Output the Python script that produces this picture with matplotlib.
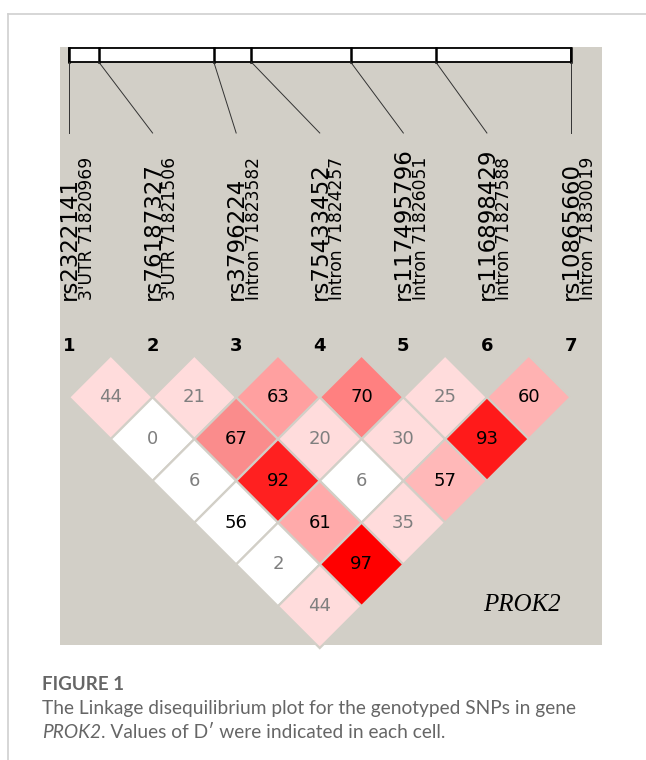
import matplotlib
matplotlib.use("Agg")
import matplotlib.pyplot as plt
from matplotlib.patches import Polygon, Rectangle

# SNP annotation
snp_ids = ["rs2322141", "rs76187327", "rs3796224", "rs75433452",
           "rs117495796", "rs116898429", "rs10865660"]
snp_regions = ["3'UTR", "3'UTR", "Intron", "Intron", "Intron", "Intron", "Intron"]
snp_positions = [71820969, 71821506, 71823582, 71824257, 71826051, 71827588, 71830019]
snp_numbers = [1, 2, 3, 4, 5, 6, 7]

# D' values, row d holds pairs (i, i+d)
dprime_rows = [
    [44, 21, 63, 70, 25, 60],
    [0, 67, 20, 30, 93],
    [6, 92, 6, 57],
    [56, 61, 35],
    [2, 97],
    [44],
]
# Haploview cell shading, same layout as dprime_rows
cell_colors = [
    ["#FFDCDC", "#FFDCDC", "#FFA0A0", "#FF8080", "#FFDCDC", "#FFB2B2"],
    ["#FFFFFF", "#FA8C8C", "#FFDCDC", "#FFDCDC", "#FF1A1A"],
    ["#FFFFFF", "#FF2020", "#FFFFFF", "#FFB8B8"],
    ["#FFFFFF", "#FFAAAA", "#FFDCDC"],
    ["#FFFFFF", "#FF0000"],
    ["#FFDCDC"],
]
gene_name = "PROK2"

BG = "#D2CFC7"

fig = plt.figure(figsize=(6.46, 7.60), dpi=100)
ax = fig.add_axes([0, 0, 1, 1])
ax.set_xlim(0, 646)
ax.set_ylim(760, 0)
ax.axis("off")

# page frame
ax.plot([8, 646], [14, 14], color="#D0D0D0", lw=1.2)
ax.plot([8, 8], [14, 760], color="#D0D0D0", lw=1.2)

# grey panel
ax.add_patch(Rectangle((60, 47), 542, 598, facecolor=BG, edgecolor="none"))

# physical map bar
x0, x1 = 69, 570.5
pmin, pmax = snp_positions[0], snp_positions[-1]
bar_x = [x0 + (p - pmin) / (pmax - pmin) * (x1 - x0) for p in snp_positions]
ax.add_patch(Rectangle((x0, 48), x1 - x0, 14, facecolor="white",
                       edgecolor="black", lw=1.3))
step = (x1 - x0) / (len(snp_ids) - 1)
lab_x = [x0 + k * step for k in range(len(snp_ids))]
for bx, lx in zip(bar_x, lab_x):
    ax.plot([bx, bx], [48, 62], color="black", lw=1.8)
    ax.plot([bx, lx], [62, 133], color="#333333", lw=0.7)

# rotated labels
for lx, sid, reg, pos in zip(lab_x, snp_ids, snp_regions, snp_positions):
    ax.text(lx + 7, 300, sid, rotation=90, rotation_mode="anchor", ha="left",
            va="baseline", fontsize=16.5, color="black", family="DejaVu Sans")
    ax.text(lx + 22.5, 300, f"{reg} {pos}", rotation=90, rotation_mode="anchor",
            ha="left", va="baseline", fontsize=12.3, color="black",
            family="DejaVu Sans")

# marker numbers
for lx, n in zip(lab_x, snp_numbers):
    ax.text(lx, 346, str(n), ha="center", va="center", fontsize=13,
            fontweight="bold", color="black")

# LD diamonds
half = step / 2
y_top = 355.5
for d, (vals, cols) in enumerate(zip(dprime_rows, cell_colors), start=1):
    for i, (v, c) in enumerate(zip(vals, cols)):
        cx = (lab_x[i] + lab_x[i + d]) / 2
        cy = y_top + half * d
        poly = Polygon([(cx, cy - half), (cx + half, cy), (cx, cy + half),
                        (cx - half, cy)], closed=True, facecolor=c,
                       edgecolor=BG, lw=1.6)
        ax.add_patch(poly)
        tcol = "black" if v >= 50 else "#7F7F7F"
        ax.text(cx, cy, str(v), ha="center", va="center", fontsize=13,
                color=tcol)

ax.text(522, 605, gene_name, ha="center", va="center", fontsize=18,
        style="italic", family="Liberation Serif", color="black")

# caption
cap_col = "#666666"
ax.text(42, 685, "FIGURE 1", ha="left", va="center", fontsize=13.5,
        fontweight="bold", color=cap_col, family="Lato")
ax.text(42, 708.5, "The Linkage disequilibrium plot for the genotyped SNPs in gene",
        ha="left", va="center", fontsize=13.8, color=cap_col, family="Lato")
t1 = ax.text(42, 733, gene_name, ha="left", va="center", fontsize=13.8,
             style="italic", color=cap_col, family="Lato")
fig.canvas.draw()
bb = t1.get_window_extent().transformed(ax.transData.inverted())
ax.text(bb.x1, 733, ". Values of D\u2032 were indicated in each cell.",
        ha="left", va="center", fontsize=13.8, color=cap_col,
        family=["Lato", "DejaVu Sans"])

fig.savefig("out.png", dpi=100)
